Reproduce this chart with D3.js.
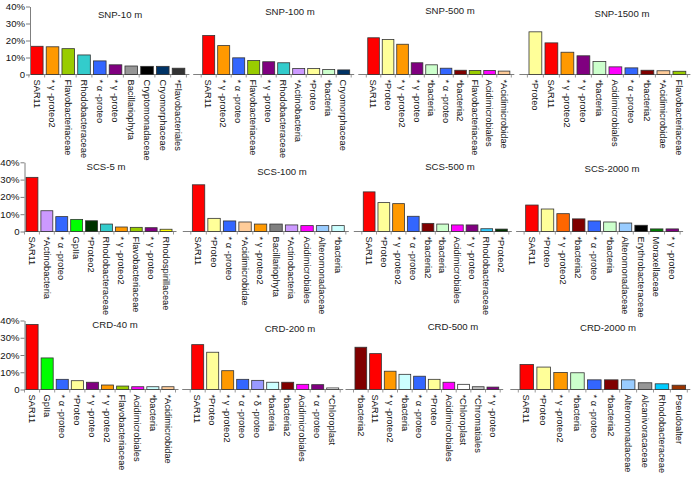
<!DOCTYPE html>
<html><head><meta charset="utf-8">
<script src="https://cdn.jsdelivr.net/npm/d3@7"></script>
<style>
html,body{margin:0;padding:0;background:#fff;}
svg{display:block;font-family:"Liberation Sans",Arial,sans-serif;}
</style></head>
<body><svg id="c" width="691" height="479"></svg>
<script>
// ---------- data ----------
const panelTitles = ["SNP-10 m","SNP-100 m","SNP-500 m","SNP-1500 m",
  "SCS-5 m","SCS-100 m","SCS-500 m","SCS-2000 m",
  "CRD-40 m","CRD-200 m","CRD-500 m","CRD-2000 m"];
const yTicks = [0,10,20,30,40];

const snp10Cats = ["SAR11","* γ -proteo2","Flavobacteriaceae","Rhodobacteraceae","* α -proteo","* γ -proteo","Bacillariophyta","Cryptomonadaceae","Cryomorphaceae","*Flavobacteriales"];
const snp10Vals = [16.6,16.3,15.2,11.5,8.0,5.7,5.0,4.8,4.8,3.7];
const snp100Cats = ["SAR11","* γ -proteo2","* α -proteo","Flavobacteriaceae","* γ -proteo","Rhodobacteraceae","*Actinobacteria","*Proteo","*bacteria","Cryomorphaceae"];
const snp100Vals = [22.9,17.0,9.8,8.2,7.5,6.9,3.5,3.5,2.9,2.7];
const snp500Cats = ["SAR11","*Proteo","* γ -proteo2","* γ -proteo","*bacteria","* α -proteo","*bacteria2","Flavobacteriaceae","Acidimicrobiales","*Acidimicrobidae"];
const snp500Vals = [21.6,20.6,17.8,6.9,5.7,3.7,2.5,2.4,2.4,2.0];
const snp1500Cats = ["*Proteo","SAR11","* γ -proteo2","* γ -proteo","*bacteria","Acidimicrobiales","* α -proteo","*bacteria2","*Acidimicrobidae","Flavobacteriaceae"];
const snp1500Vals = [25.1,18.6,13.1,11.0,7.6,4.5,3.9,2.5,2.2,1.9];

const scs5Cats = ["SAR11","*Actinobacteria","* α -proteo","GpIIa","*Proteo2","Rhodobacteraceae","* γ -proteo2","Flavobacteriaceae","* γ -proteo","Rhodospirillaceae"];
const scs5Vals = [31.3,12.0,8.6,7.0,6.2,4.3,2.6,2.4,2.2,1.3];
const scs100Cats = ["SAR11","*Proteo","* α -proteo","*Acidimicrobidae","* γ -proteo2","Bacillariophyta","*Actinobacteria","Acidimicrobiales","Alteromonadaceae","*bacteria"];
const scs100Vals = [27.0,7.6,6.1,5.5,4.3,4.3,3.8,3.4,3.4,3.4];
const scs500Cats = ["SAR11","*Proteo","* γ -proteo2","* α -proteo","*bacteria2","*bacteria","Acidimicrobiales","* γ -proteo","Rhodobacteraceae","*Proteo2"];
const scs500Vals = [22.9,16.7,16.1,8.8,4.7,4.3,3.8,3.8,1.6,1.4];
const scs2000Cats = ["SAR11","*Proteo","* γ -proteo2","*bacteria2","* α -proteo","*bacteria","Alteromonadaceae","Erythrobacteraceae","Moraxellaceae","* γ -proteo"];
const scs2000Vals = [15.3,13.0,10.3,7.3,6.1,5.5,4.9,3.6,1.5,1.5];

const crd40Cats = ["SAR11","GpIIa","* α -proteo","*Proteo","* γ -proteo","* γ -proteo2","Flavobacteriaceae","Acidimicrobiales","*bacteria","*Acidimicrobidae"];
const crd40Vals = [37.7,18.3,5.9,5.1,4.2,2.6,2.0,1.6,1.6,1.6];
const crd200Cats = ["SAR11","*Proteo","* γ -proteo2","* α -proteo","* δ -proteo","*bacteria","*bacteria2","Acidimicrobiales","* α -proteo","*Chloroplast"];
const crd200Vals = [26.0,21.6,10.9,5.9,5.3,4.2,4.2,3.0,2.8,0.9];
const crd500Cats = ["*bacteria2","SAR11","* γ -proteo2","*bacteria","* α -proteo","*Proteo","Acidimicrobiales","*Chloroplast","*Chromatiales","* γ -proteo"];
const crd500Vals = [24.5,20.8,10.6,8.8,7.7,5.9,4.2,3.0,1.6,1.4];
const crd2000Cats = ["SAR11","*Proteo","* γ -proteo2","*bacteria","* α -proteo","*bacteria2","Alteromonadaceae","Alcanivoracaceae","Rhodobacteraceae","Pseudoalter"];
const crd2000Vals = [14.5,13.0,9.9,9.7,5.6,5.6,5.6,3.9,3.3,2.5];

// ---------- styles ----------
const snp10Colors = ["#ff0000","#ff9900","#99cc00","#33cccc","#3366ff","#800080","#969696","#000000","#003366","#333333"];
const snp100Colors = ["#ff0000","#ff9900","#3366ff","#99cc00","#800080","#33cccc","#cc99ff","#ffff99","#ccffcc","#003366"];
const snp500Colors = ["#ff0000","#ffff99","#ff9900","#800080","#ccffcc","#3366ff","#800000","#99cc00","#ff00ff","#ffcc99"];
const snp1500Colors = ["#ffff99","#ff0000","#ff9900","#800080","#ccffcc","#ff00ff","#3366ff","#800000","#ffcc99","#99cc00"];
const scs5Colors = ["#ff0000","#cc99ff","#3366ff","#00ff00","#003300","#33cccc","#ff9900","#99cc00","#800080","#ffff00"];
const scs100Colors = ["#ff0000","#ffff99","#3366ff","#ffcc99","#ff9900","#808080","#cc99ff","#ff00ff","#99ccff","#ccffff"];
const scs500Colors = ["#ff0000","#ffff99","#ff9900","#3366ff","#800000","#ccffcc","#ff00ff","#800080","#33ccff","#003300"];
const scs2000Colors = ["#ff0000","#ffff99","#ff6600","#800000","#3366ff","#ccffcc","#99ccff","#000000","#008000","#800080"];
const crd40Colors = ["#ff0000","#00ff00","#3366ff","#ffff99","#800080","#ff9900","#99cc00","#ff00ff","#ccffff","#ffcc99"];
const crd200Colors = ["#ff0000","#ffff99","#ff9900","#3366ff","#9999ff","#ccffff","#800000","#ff00ff","#800080","#ffffff"];
const crd500Colors = ["#800000","#ff0000","#ff9900","#ccffff","#3366ff","#ffff99","#ff00ff","#ffffff","#c0c0c0","#800080"];
const crd2000Colors = ["#ff0000","#ffff99","#ff9900","#ccffcc","#3366ff","#800000","#99ccff","#969696","#00ccff","#993300"];

// ---------- layout ----------
const rowY = [ {zero:74.5, top:6.5, axisX:30}, {zero:231.5, top:162.3, axisX:24.5}, {zero:389.5, top:320.5, axisX:24.5} ];
// per panel: [rangeStart, rangeEnd, titleX, titleY]
const panelLayout = [
  [28.9,186.4,120,15],[201.2,351.2,290,12],[366.3,511.3,450,11],[527.4,687.4,622,14],
  [24.5,173.5,106,167],[190.8,345.8,282,172],[361.8,508.8,450,167],[524.1,680.1,612,169],
  [24.5,175.5,115,325],[190.2,340.2,290,329],[353.5,500.2,453,327],[518.3,687.3,608,328]
];

const panels = [
  [snp10Cats,snp10Vals,snp10Colors],[snp100Cats,snp100Vals,snp100Colors],[snp500Cats,snp500Vals,snp500Colors],[snp1500Cats,snp1500Vals,snp1500Colors],
  [scs5Cats,scs5Vals,scs5Colors],[scs100Cats,scs100Vals,scs100Colors],[scs500Cats,scs500Vals,scs500Colors],[scs2000Cats,scs2000Vals,scs2000Colors],
  [crd40Cats,crd40Vals,crd40Colors],[crd200Cats,crd200Vals,crd200Colors],[crd500Cats,crd500Vals,crd500Colors],[crd2000Cats,crd2000Vals,crd2000Colors]
];

const svg = d3.select("#c");
const FS = 9.3;

panels.forEach((p, i) => {
  const [cats, vals, cols] = p;
  const row = Math.floor(i/4), col = i % 4;
  const L = panelLayout[i], R = rowY[row];
  const x = d3.scaleBand().domain(d3.range(cats.length)).range([L[0], L[1]]).paddingInner(0.2).paddingOuter(0.1);
  const y = d3.scaleLinear().domain([0,40]).range([R.zero, R.top]);
  const g = svg.append("g");

  const bx0 = col === 0 ? R.axisX : L[0] - 8;
  g.append("line").attr("x1", bx0).attr("x2", L[1] + 3).attr("y1", y(0)).attr("y2", y(0))
    .attr("stroke", "#7f7f7f").attr("stroke-width", 1);
  const step = x.step();
  d3.range(cats.length + 1).forEach(k => {
    const tx = x(0) - (step - x.bandwidth())/2 + k*step;
    g.append("line").attr("x1", tx).attr("x2", tx).attr("y1", y(0)).attr("y2", y(0)+3)
      .attr("stroke", "#7f7f7f").attr("stroke-width", 0.8);
  });

  g.selectAll("rect").data(vals).join("rect")
    .attr("x", (d,k) => x(k)).attr("width", x.bandwidth())
    .attr("y", d => y(d)).attr("height", d => y(0) - y(d))
    .attr("fill", (d,k) => cols[k]).attr("stroke", "#333").attr("stroke-width", 0.8);

  g.selectAll("text.cat").data(cats).join("text").attr("class","cat")
    .attr("transform", (d,k) => `translate(${x(k)+x.bandwidth()/2},${y(0)+5}) rotate(90)`)
    .attr("dy", "0.35em").attr("font-size", FS).attr("fill", "#111").text(d => d);

  svg.append("text").attr("x", L[2]).attr("y", L[3]).attr("text-anchor","middle")
    .attr("dominant-baseline","middle").attr("font-size", 9.6).attr("fill","#222").text(panelTitles[i]);

  if (col === 0) {
    const ax = d3.axisLeft(y).tickValues(yTicks).tickSize(4).tickSizeOuter(0)
      .tickFormat(d => d === 0 ? "0" : d + "%");
    const ga = svg.append("g").attr("transform", `translate(${R.axisX},0)`).call(ax);
    ga.selectAll("path,line").attr("stroke", "#7f7f7f");
    ga.selectAll("text").attr("font-size", 9.6).attr("fill", "#111")
      .attr("font-family", '"Liberation Sans",Arial,sans-serif').attr("x", -5);
  }
});
</script></body></html>
